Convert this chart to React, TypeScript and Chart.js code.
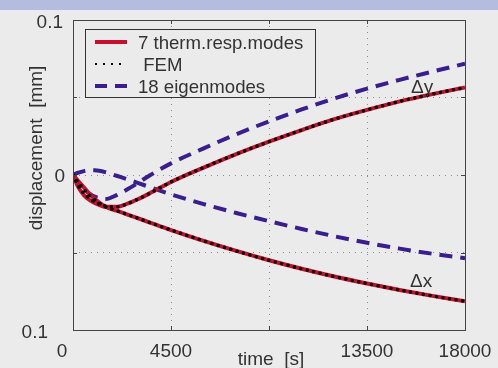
import React, { useEffect, useRef } from "react";
import { Chart, registerables } from "chart.js";

Chart.register(...registerables);

const times = [0, 250, 500, 750, 1000, 1500, 2000, 2500, 3000, 3500, 4500, 6000, 7500, 9000, 10500, 12000, 13500, 15000, 16500, 18000];
const thermDy = [0, -0.008, -0.013, -0.016, -0.018, -0.0205, -0.0205, -0.0185, -0.0155, -0.012, -0.0045, 0.0048, 0.0135, 0.0215, 0.029, 0.036, 0.042, 0.0475, 0.0522, 0.0565];
const thermDx = [0, -0.004, -0.008, -0.012, -0.0155, -0.0205, -0.023, -0.0255, -0.028, -0.0305, -0.0355, -0.0425, -0.049, -0.055, -0.0605, -0.0655, -0.07, -0.0742, -0.078, -0.0815];
const femDy = [0, -0.007, -0.012, -0.015, -0.0175, -0.02, -0.0205, -0.0185, -0.0155, -0.012, -0.0045, 0.0048, 0.0135, 0.0215, 0.029, 0.036, 0.042, 0.0475, 0.0522, 0.0565];
const femDx = [0, -0.005, -0.009, -0.013, -0.016, -0.0205, -0.023, -0.0255, -0.028, -0.0305, -0.0355, -0.0425, -0.049, -0.055, -0.0605, -0.0655, -0.07, -0.0742, -0.078, -0.0815];
const eigenDy = [0, -0.005, -0.009, -0.012, -0.014, -0.0155, -0.013, -0.0092, -0.005, -0.0005, 0.0075, 0.0172, 0.0263, 0.0346, 0.0423, 0.0494, 0.0557, 0.0614, 0.0667, 0.0718];
const eigenDx = [0, 0.0015, 0.0025, 0.003, 0.003, 0.0018, -0.0005, -0.0028, -0.0052, -0.0077, -0.0125, -0.0188, -0.0245, -0.0298, -0.0348, -0.0395, -0.0437, -0.0475, -0.0508, -0.0537];

const xTicks = [0, 4500, 9000, 13500, 18000];
const xTickLabels = ["0", "4500", "", "13500", "18000"];
const yTicks = [0.1, 0.05, 0, -0.05, -0.1];
const yTickLabels = ["0.1", "", "0", "", "0.1"];

const legendLabels = ["7 therm.resp.modes", " FEM", "18 eigenmodes"];
const xTitle = "time  [s]";
const yTitle = "displacement  [mm]";
const curveLabels = ["\u0394y", "\u0394x"];

const RED = "#c8102e";
const BLUE = "#3a1d8e";
const BLACK = "#000000";
const TEXT = "#333333";
const FONT = '19px "Liberation Sans", Arial, sans-serif';
const LFONT = '18.6px "Liberation Sans", Arial, sans-serif';

const pts = (ys: number[]) => times.map((t, i) => ({ x: t, y: ys[i] }));

export default function App() {
  const ref = useRef<HTMLCanvasElement | null>(null);
  useEffect(() => {
    const canvas = ref.current!;
    const redStyle = { borderColor: RED, borderWidth: 4, pointRadius: 0, cubicInterpolationMode: "monotone" as const, order: 1, fill: false };
    const femStyle = { borderColor: BLACK, borderWidth: 3.5, borderDash: [0.1, 6.5], borderCapStyle: "round" as const, pointRadius: 0, cubicInterpolationMode: "monotone" as const, order: 0, fill: false };
    const blueStyle = { borderColor: BLUE, borderWidth: 4, borderDash: [13, 8], pointRadius: 0, cubicInterpolationMode: "monotone" as const, order: 2, fill: false };

    const deco = {
      id: "deco",
      beforeDraw(chart: any) {
        const c = chart.ctx;
        c.save();
        c.fillStyle = "#ebebeb";
        c.fillRect(0, 0, chart.width, chart.height);
        c.fillStyle = "#b4bde0";
        c.fillRect(0, 0, chart.width, 10);
        c.restore();
      },
      afterDraw(chart: any) {
        const c = chart.ctx;
        const a = chart.chartArea;
        const xs = chart.scales.x;
        const ys = chart.scales.y;
        c.save();
        c.strokeStyle = "#444";
        c.lineWidth = 1;
        c.strokeRect(Math.round(a.left) + 0.5, Math.round(a.top) + 0.5, Math.round(a.right - a.left), Math.round(a.bottom - a.top));
        c.beginPath();
        xTicks.forEach((v) => {
          const px = Math.round(xs.getPixelForValue(v)) + 0.5;
          c.moveTo(px, a.bottom); c.lineTo(px, a.bottom - 4);
          c.moveTo(px, a.top); c.lineTo(px, a.top + 4);
        });
        yTicks.forEach((v) => {
          const py = Math.round(ys.getPixelForValue(v)) + 0.5;
          c.moveTo(a.left, py); c.lineTo(a.left + 4, py);
          c.moveTo(a.right, py); c.lineTo(a.right - 4, py);
        });
        c.stroke();
        c.fillStyle = TEXT;
        c.font = FONT;
        c.textBaseline = "alphabetic";
        xTicks.forEach((v, i) => {
          if (!xTickLabels[i]) return;
          let px = xs.getPixelForValue(v);
          if (i === 0) px -= 11;
          c.textAlign = "center";
          c.fillText(xTickLabels[i], px, 357);
        });
        yTicks.forEach((v, i) => {
          if (!yTickLabels[i]) return;
          const py = ys.getPixelForValue(v);
          c.textAlign = "right";
          let rx = a.left - 10;
          let dy = 7;
          if (i === 0) { rx = a.left - 10; dy = 8; }
          if (i === 2) { rx = a.left - 8; dy = 7; }
          if (i === 4) { rx = a.left - 25; dy = 8; }
          c.fillText(yTickLabels[i], rx, py + dy);
        });
        c.textAlign = "center";
        c.fillText(xTitle, xs.getPixelForValue(9000) + 2, 365);
        c.save();
        c.translate(42, 148);
        c.rotate(-Math.PI / 2);
        c.fillText(yTitle, 0, 0);
        c.restore();
        c.textAlign = "left";
        c.fillText(curveLabels[0], 411, 93);
        c.fillText(curveLabels[1], 410, 287);
        c.fillStyle = "#ebebeb";
        c.fillRect(85.5, 29.5, 230, 68);
        c.strokeStyle = "#333";
        c.lineWidth = 1;
        c.strokeRect(85.5, 29.5, 230, 68);
        const rows = [42, 64, 86];
        c.beginPath(); c.strokeStyle = RED; c.lineWidth = 4; c.setLineDash([]);
        c.moveTo(95, rows[0]); c.lineTo(127, rows[0]); c.stroke();
        c.beginPath(); c.strokeStyle = BLACK; c.lineWidth = 2; c.setLineDash([2, 6]);
        c.moveTo(95, rows[1]); c.lineTo(127, rows[1]); c.stroke();
        c.beginPath(); c.strokeStyle = BLUE; c.lineWidth = 4; c.setLineDash([12, 8]);
        c.moveTo(95, rows[2]); c.lineTo(128, rows[2]); c.stroke();
        c.setLineDash([]);
        c.fillStyle = TEXT;
        c.font = LFONT;
        c.textAlign = "left";
        legendLabels.forEach((l, i) => c.fillText(l, 138, rows[i] + 6.5));
        c.restore();
      },
    };

    const chart = new Chart(canvas, {
      type: "line",
      data: {
        datasets: [
          { ...femStyle, label: "FEM dy", data: pts(femDy) },
          { ...femStyle, label: "FEM dx", data: pts(femDx) },
          { ...redStyle, label: "therm dy", data: pts(thermDy) },
          { ...redStyle, label: "therm dx", data: pts(thermDx) },
          { ...blueStyle, label: "eigen dy", data: pts(eigenDy) },
          { ...blueStyle, label: "eigen dx", data: pts(eigenDx) },
        ] as any,
      },
      options: {
        animation: false,
        responsive: false,
        devicePixelRatio: 1,
        layout: { padding: { top: 20, right: 33, left: 0, bottom: 0 } },
        plugins: { legend: { display: false }, tooltip: { enabled: false } },
        scales: {
          x: {
            type: "linear",
            min: 0,
            max: 18000,
            afterBuildTicks: (s: any) => { s.ticks = xTicks.map((v) => ({ value: v })); },
            afterFit: (s: any) => { s.height = 38; },
            ticks: { display: false },
            grid: { color: "#8c8c8c", lineWidth: 1, drawTicks: false },
            border: { display: false, dash: [1, 5] },
          },
          y: {
            type: "linear",
            min: -0.1,
            max: 0.1,
            afterBuildTicks: (s: any) => { s.ticks = yTicks.map((v) => ({ value: v })); },
            afterFit: (s: any) => { s.width = 73; },
            ticks: { display: false },
            grid: { color: "#8c8c8c", lineWidth: 1, drawTicks: false },
            border: { display: false, dash: [1, 5] },
          },
        },
      },
      plugins: [deco],
    } as any);
    return () => chart.destroy();
  }, []);

  return (
    <div style={{ position: "fixed", left: 0, top: 0, width: 498, height: 368, background: "#ebebeb" }}>
      <canvas ref={ref} width={498} height={368} style={{ display: "block", width: 498, height: 368 }} />
    </div>
  );
}
